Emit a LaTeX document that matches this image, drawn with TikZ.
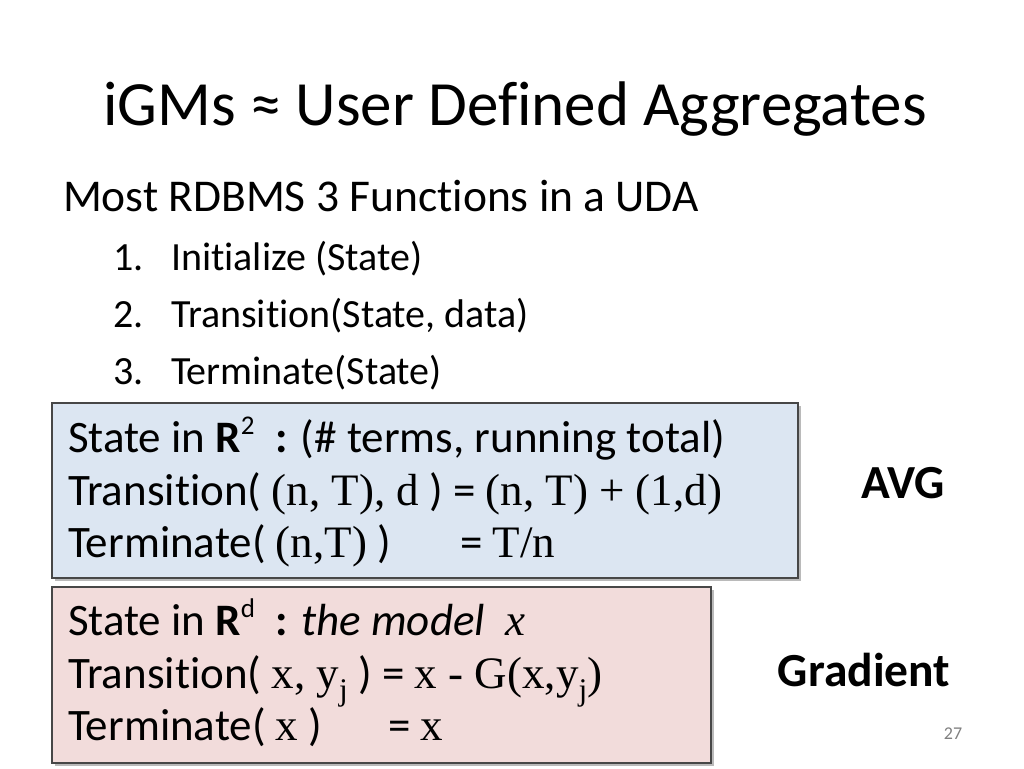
\documentclass[tikz,border=0pt]{standalone}
\usepackage{fontspec}
\setmainfont{Carlito}[RawFeature={-liga;-clig;-dlig}]
\newfontfamily\tnr{Liberation Serif}
\usetikzlibrary{shadows}
\newcommand{\mysup}[1]{\raisebox{0.38em}{\fontsize{27}{28}\selectfont #1}}
\begin{document}
\begin{tikzpicture}[x=1pt,y=-1pt,
  txt/.style={anchor=base west,inner sep=0pt,outer sep=0pt},
  boxtxt/.style={txt,font=\fontsize{45}{48}\selectfont},
  listtxt/.style={txt,font=\fontsize{40}{44}\selectfont},
  panel/.style={draw=black!72,line width=1.3pt,minimum width=#1,inner sep=0pt,
    drop shadow={shadow xshift=3pt,shadow yshift=-3pt,opacity=0.45,fill=black!60}},
  side/.style={anchor=base,inner sep=0pt,font=\fontsize{47.5}{50}\selectfont\bfseries}]
\useasboundingbox[fill=white] (0,0) rectangle (1024,768);
% title
\node[anchor=base,inner sep=0pt,font=\fontsize{63}{68}\selectfont] (title) at (515,125) {iGMs ≈ User Defined Aggregates};
% body
\node[txt,font=\fontsize{45.5}{48}\selectfont] (head) at (63,211) {Most RDBMS 3 Functions in a UDA};
\node[listtxt] (n1) at (113,270) {1.};
\node[listtxt] (i1) at (171,270) {Initialize (State)};
\node[listtxt] (n2) at (113,327) {2.};
\node[listtxt] (i2) at (171,327) {Transition(State, data)};
\node[listtxt] (n3) at (113,384) {3.};
\node[listtxt] (i3) at (171,384) {Terminate(State)};
% AVG box
\node[panel=746pt,minimum height=175pt,fill={rgb,255:red,220;green,230;blue,242}] (avgbox) at (425,490.5) {};
\node[boxtxt] (a1) at (68,452) {State in \textbf{R}\mysup{2}\ \ \textbf{:} (\# terms, running total)};
\node[boxtxt] (a2) at (68,505) {Transition( {\tnr (n, T), d} ) = {\tnr (n, T) + (1,d)}};
\node[boxtxt] (a3) at (68,557) {Terminate( {\tnr (n,T)} )};
\node[boxtxt] (a3b) at (460,557) {= {\tnr T/n}};
% Gradient box
\node[panel=659pt,minimum height=176pt,fill={rgb,255:red,242;green,220;blue,219}] (gradbox) at (381.5,675) {};
\node[boxtxt] (g1) at (68,635) {State in \textbf{R}\mysup{d}\ \ \textbf{:} \textit{the model}\ \ {\tnr\itshape x}};
\node[boxtxt] (g2) at (68,688) {Transition( {\tnr x, y\textsubscript{j}} ) = {\tnr x - G(x,y\textsubscript{j})}};
\node[boxtxt] (g3) at (68,740) {Terminate( {\tnr x} )};
\node[boxtxt] (g3b) at (388,740) {= {\tnr x}};
% side labels
\node[side] (avg) at (903,498) {AVG};
\node[side] (grad) at (864,686) {Gradient};
\node[anchor=base,inner sep=0pt,text=black!50,font=\fontsize{18}{20}\selectfont] (pg) at (953,739) {27};
\end{tikzpicture}
\end{document}
